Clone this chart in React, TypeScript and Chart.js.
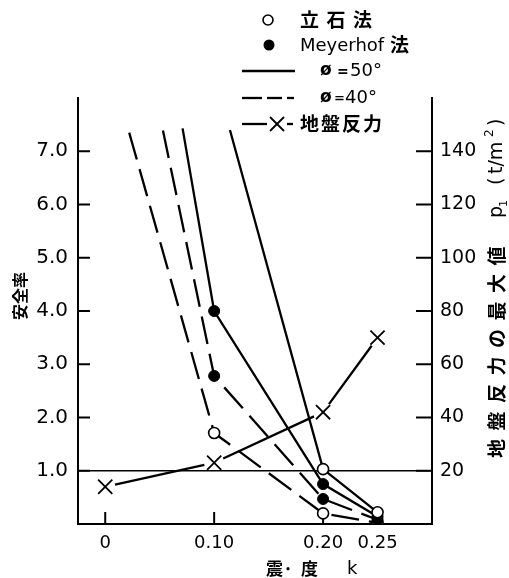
import { useEffect, useRef } from "react";
import { Chart, registerables } from "chart.js";

Chart.register(...registerables);

// seismic coefficient k ticks
const xTickValues = [0, 0.1, 0.2, 0.25];
const xTickLabels = ["0", "0.10", "0.20", "0.25"];
// safety factor ticks (left) and max ground reaction ticks (right)
const safetyTicks = [1, 2, 3, 4, 5, 6, 7];
const reactionTicks = [20, 40, 60, 80, 100, 120, 140];

// 立石法, ø = 50°  (first point is the upper end of the curve, no marker)
const tateishi50K = [0.1145, 0.2, 0.25];
const tateishi50F = [7.4, 1.03, 0.22];
// Meyerhof法, ø = 50°
const meyerhof50K = [0.071, 0.1, 0.2, 0.25];
const meyerhof50F = [7.43, 4.0, 0.75, 0.14];
// Meyerhof法, ø = 40°
const meyerhof40K = [0.053, 0.1, 0.2, 0.25];
const meyerhof40F = [7.39, 2.78, 0.47, 0.08];
// 立石法, ø = 40°
const tateishi40K = [0.022, 0.1, 0.2, 0.25];
const tateishi40F = [7.35, 1.71, 0.2, 0.02];
// 地盤反力の最大値 p1 (t/m²)
const reactionK = [0, 0.1, 0.2, 0.25];
const reactionP = [14, 23, 42, 70];

const LATIN = "'DejaVu Sans', sans-serif";
const CJK = "'Noto Sans CJK JP', sans-serif";
const DASH = [28, 10];
const LW = 2.3;

const pts = (xs: number[], ys: number[]) => xs.map((x, i) => ({ x, y: ys[i] }));
const radii = (n: number, r: number) => Array.from({ length: n }, (_, i) => (i === 0 ? 0 : r));

function line(ctx: CanvasRenderingContext2D, x1: number, y1: number, x2: number, y2: number) {
  ctx.beginPath();
  ctx.moveTo(x1, y1);
  ctx.lineTo(x2, y2);
  ctx.stroke();
}

function cross(ctx: CanvasRenderingContext2D, cx: number, cy: number, h: number) {
  line(ctx, cx - h, cy - h, cx + h, cy + h);
  line(ctx, cx - h, cy + h, cx + h, cy - h);
}

function chars(ctx: CanvasRenderingContext2D, text: string, x0: number, pitch: number, y: number) {
  Array.from(text).forEach((c, i) => ctx.fillText(c, x0 + i * pitch, y));
}

const decorations = {
  id: "decorations",
  beforeDatasetsDraw(chart: any) {
    const { ctx, chartArea: a, scales } = chart;
    ctx.save();
    ctx.strokeStyle = "#000";
    ctx.lineWidth = 2;
    // inward tick marks
    for (const t of scales.y.ticks) {
      const py = scales.y.getPixelForValue(t.value);
      line(ctx, a.left, py, a.left + 12, py);
    }
    for (const t of scales.y2.ticks) {
      const py = scales.y2.getPixelForValue(t.value);
      line(ctx, a.right - 16, py, a.right, py);
    }
    for (const t of scales.x.ticks) {
      const px = scales.x.getPixelForValue(t.value);
      line(ctx, px, a.bottom - 12, px, a.bottom);
    }
    // ground reaction polyline, broken open around each cross
    ctx.lineWidth = LW;
    const p = chart.getDatasetMeta(4).data;
    const gap = 10;
    for (let i = 0; i < p.length - 1; i++) {
      const dx = p[i + 1].x - p[i].x;
      const dy = p[i + 1].y - p[i].y;
      const d = Math.hypot(dx, dy);
      const ux = dx / d;
      const uy = dy / d;
      line(ctx, p[i].x + ux * gap, p[i].y + uy * gap, p[i + 1].x - ux * gap, p[i + 1].y - uy * gap);
    }
    ctx.restore();
  },
  afterDraw(chart: any) {
    const { ctx } = chart;
    ctx.save();
    ctx.fillStyle = "#000";
    ctx.strokeStyle = "#000";
    ctx.textBaseline = "middle";
    ctx.textAlign = "left";

    // legend
    ctx.lineWidth = 1.6;
    ctx.beginPath();
    ctx.arc(268, 20, 5, 0, Math.PI * 2);
    ctx.fillStyle = "#fff";
    ctx.fill();
    ctx.stroke();
    ctx.fillStyle = "#000";
    ctx.font = `bold 19px ${CJK}`;
    chars(ctx, "立石法", 300, 26.5, 20);

    ctx.beginPath();
    ctx.arc(269, 45, 5.5, 0, Math.PI * 2);
    ctx.fill();
    ctx.font = `18px ${LATIN}`;
    ctx.fillText("Meyerhof", 300, 46);
    ctx.font = `bold 19px ${CJK}`;
    ctx.fillText("法", 390, 45);

    ctx.lineWidth = LW;
    line(ctx, 242, 71, 295, 71);
    ctx.font = `bold 17px ${LATIN}`;
    ctx.fillText("ø", 320, 71);
    ctx.font = `bold 14px ${LATIN}`;
    ctx.fillText("=", 337, 72);
    ctx.font = `18px ${LATIN}`;
    ctx.fillText("50°", 350, 71);

    line(ctx, 242, 98, 262, 98);
    line(ctx, 267, 98, 282, 98);
    line(ctx, 287, 98, 294, 98);
    ctx.font = `bold 17px ${LATIN}`;
    ctx.fillText("ø", 320, 98);
    ctx.font = `bold 13px ${LATIN}`;
    ctx.fillText("=", 334, 99);
    ctx.font = `18px ${LATIN}`;
    ctx.fillText("40°", 345, 98);

    line(ctx, 242, 124, 267, 124);
    ctx.lineWidth = 1.8;
    cross(ctx, 277, 124, 7);
    ctx.lineWidth = LW;
    line(ctx, 287, 124, 293, 124);
    ctx.font = `bold 19px ${CJK}`;
    chars(ctx, "地盤反力", 300, 21, 124);

    // left axis title
    ctx.save();
    ctx.translate(20, 296);
    ctx.rotate(-Math.PI / 2);
    ctx.textAlign = "center";
    ctx.font = `bold 16px ${CJK}`;
    ctx.fillText("安全率", 0, 0);
    ctx.restore();

    // right axis title, reading upward
    ctx.save();
    ctx.translate(497, 458);
    ctx.rotate(-Math.PI / 2);
    ctx.font = `bold 19px ${CJK}`;
    chars(ctx, "地盤反力の最大値", 0, 27.5, 0);
    ctx.font = `19px ${LATIN}`;
    ctx.fillText("p", 240, 0);
    ctx.font = `11px ${LATIN}`;
    ctx.fillText("1", 251, 7);
    ctx.font = `19px ${LATIN}`;
    ctx.fillText("(", 273, 0);
    ctx.fillText("t/m", 284, 0);
    ctx.font = `12px ${LATIN}`;
    ctx.fillText("2", 321, -7);
    ctx.font = `19px ${LATIN}`;
    ctx.fillText(")", 332, 0);
    ctx.restore();

    // x axis title
    ctx.font = `bold 17px ${CJK}`;
    ctx.fillText("震", 266, 569);
    ctx.fillText("·", 283, 569);
    ctx.fillText("度", 301, 569);
    ctx.font = `18px ${LATIN}`;
    ctx.fillText("k", 347, 569);

    ctx.restore();
  },
};

export default function App() {
  const ref = useRef<HTMLCanvasElement | null>(null);

  useEffect(() => {
    if (!ref.current) return;
    const openPt = { pointBackgroundColor: "#fff", pointBorderColor: "#000", pointBorderWidth: 1.6 };
    const filledPt = { pointBackgroundColor: "#000", pointBorderColor: "#000", pointBorderWidth: 1 };
    const base = { borderColor: "#000", borderWidth: LW, tension: 0, fill: false, yAxisID: "y" };

    const chart = new Chart(ref.current, {
      type: "line",
      data: {
        datasets: [
          { ...base, ...openPt, label: "立石法 ø=50°", data: pts(tateishi50K, tateishi50F), pointRadius: radii(3, 5.5) },
          { ...base, ...filledPt, label: "Meyerhof法 ø=50°", data: pts(meyerhof50K, meyerhof50F), pointRadius: radii(4, 5.5) },
          { ...base, ...filledPt, label: "Meyerhof法 ø=40°", data: pts(meyerhof40K, meyerhof40F), pointRadius: radii(4, 5.5), borderDash: DASH },
          { ...base, ...openPt, label: "立石法 ø=40°", data: pts(tateishi40K, tateishi40F), pointRadius: radii(4, 5.5), borderDash: DASH },
          {
            label: "地盤反力",
            data: pts(reactionK, reactionP),
            yAxisID: "y2",
            showLine: false,
            pointStyle: "crossRot",
            pointRadius: 10,
            pointBorderWidth: 1.8,
            pointBorderColor: "#000",
            borderColor: "#000",
          },
        ],
      } as any,
      options: {
        responsive: false,
        animation: false,
        devicePixelRatio: 1,
        layout: { padding: { top: 98, left: 0, right: 0, bottom: 0 } },
        plugins: { legend: { display: false }, tooltip: { enabled: false } },
        scales: {
          x: {
            type: "linear",
            position: "bottom",
            min: -0.025,
            max: 0.3,
            afterBuildTicks: (s: any) => {
              s.ticks = xTickValues.map((value) => ({ value }));
            },
            afterFit: (s: any) => {
              s.height = 54;
            },
            grid: { display: false, drawTicks: false },
            border: { display: true, color: "#000", width: 2 },
            ticks: {
              autoSkip: false,
              maxRotation: 0,
              padding: 9,
              color: "#000",
              font: { family: LATIN, size: 18 },
              callback: (_v: any, i: number) => xTickLabels[i],
            },
          },
          y: {
            type: "linear",
            position: "left",
            min: 0,
            max: 8,
            afterBuildTicks: (s: any) => {
              s.ticks = safetyTicks.map((value) => ({ value }));
            },
            afterFit: (s: any) => {
              s.width = 78;
            },
            grid: {
              display: true,
              drawTicks: false,
              lineWidth: 1.6,
              color: (c: any) => (c.tick && c.tick.value === 1 ? "#000" : "rgba(0,0,0,0)"),
            },
            border: { display: true, color: "#000", width: 2 },
            ticks: {
              padding: 10,
              color: "#000",
              font: { family: LATIN, size: 20 },
              callback: (v: any) => Number(v).toFixed(1),
            },
          },
          y2: {
            type: "linear",
            position: "right",
            min: 0,
            max: 160,
            afterBuildTicks: (s: any) => {
              s.ticks = reactionTicks.map((value) => ({ value }));
            },
            afterFit: (s: any) => {
              s.width = 77;
            },
            grid: { display: false, drawTicks: false },
            border: { display: true, color: "#000", width: 2 },
            ticks: {
              padding: 8,
              color: "#000",
              font: { family: LATIN, size: 19 },
              callback: (v: any) => String(v),
            },
          },
        },
      } as any,
      plugins: [decorations],
    });
    return () => chart.destroy();
  }, []);

  return (
    <div style={{ position: "absolute", left: 0, top: 0, width: 509, height: 578, background: "#fff" }}>
      <canvas ref={ref} width={509} height={578} />
    </div>
  );
}
